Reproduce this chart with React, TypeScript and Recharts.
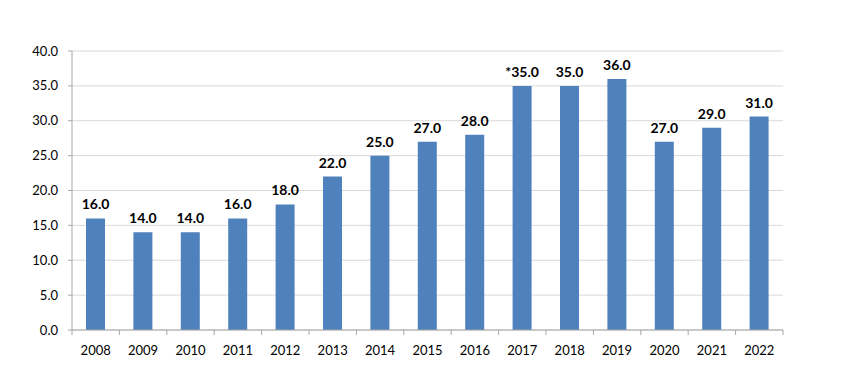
import { BarChart, Bar, XAxis, YAxis, CartesianGrid, LabelList } from 'recharts';

if (typeof document !== 'undefined') document.body.style.margin = '0';

const years = ['2008', '2009', '2010', '2011', '2012', '2013', '2014', '2015', '2016', '2017', '2018', '2019', '2020', '2021', '2022'];
const values = [16, 14, 14, 16, 18, 22, 25, 27, 28, 35, 35, 36, 27, 29, 30.6];
const barLabels = ['16.0', '14.0', '14.0', '16.0', '18.0', '22.0', '25.0', '27.0', '28.0', '*35.0', '35.0', '36.0', '27.0', '29.0', '31.0'];
const yTicks = [0, 5, 10, 15, 20, 25, 30, 35, 40];

const chartData = years.map((year, i) => ({ year, value: values[i], label: barLabels[i] }));

const PLOT_LEFT = 72;
const PLOT_RIGHT = 783;
const band = (PLOT_RIGHT - PLOT_LEFT) / years.length;
const FONT = 'Lato, "Open Sans", sans-serif';

const YearTick = (props: any) => {
  const { x, y, payload, index } = props;
  const last = index === years.length - 1;
  return (
    <g>
      <line x1={x - band / 2} x2={x - band / 2} y1={y} y2={y + 5} stroke="#a6a6a6" />
      {last && <line x1={x + band / 2} x2={x + band / 2} y1={y} y2={y + 5} stroke="#a6a6a6" />}
      <text x={x} y={y + 25} textAnchor="middle" fontSize={13} fontFamily={FONT} fill="#000">
        {payload.value}
      </text>
    </g>
  );
};

const TopLabel = (props: any) => {
  const { x, y, width, index } = props;
  return (
    <text x={x + width / 2} y={y - 9} textAnchor="middle" fontSize={14} fontWeight="bold" fontFamily={FONT} fill="#000">
      {barLabels[index]}
    </text>
  );
};

export default function App() {
  return (
    <div style={{ width: 850, height: 368, background: '#fff' }}>
      <BarChart
        width={850}
        height={368}
        data={chartData}
        margin={{ top: 51, right: 850 - PLOT_RIGHT, left: 12, bottom: 8 }}
        barCategoryGap={0}
      >
        <CartesianGrid vertical={false} stroke="#d9d9d9" />
        <XAxis
          dataKey="year"
          height={30}
          tickSize={0}
          tickMargin={0}
          tickLine={false}
          axisLine={{ stroke: '#a6a6a6' }}
          tick={<YearTick />}
          interval={0}
        />
        <YAxis
          width={60}
          domain={[0, 40]}
          ticks={yTicks}
          tickFormatter={(v: number) => v.toFixed(1)}
          tickSize={4}
          tickMargin={10}
          tickLine={{ stroke: '#a6a6a6' }}
          axisLine={{ stroke: '#a6a6a6' }}
          tick={{ fontSize: 13, fontFamily: FONT, fill: '#000' }}
        />
        <Bar dataKey="value" fill="#4f81bd" barSize={19} isAnimationActive={false}>
          <LabelList dataKey="label" content={<TopLabel />} />
        </Bar>
      </BarChart>
    </div>
  );
}
